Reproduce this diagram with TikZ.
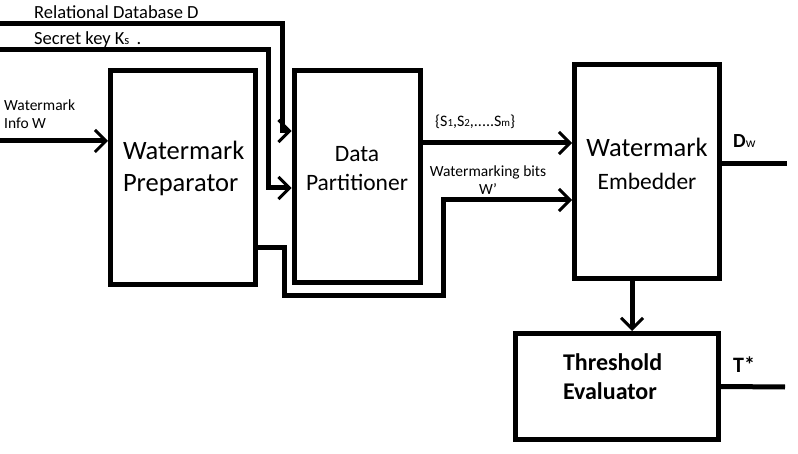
\documentclass[tikz,border=0pt]{standalone}
\usepackage{fontspec}
\setmainfont{Carlito}
\usetikzlibrary{arrows.meta,positioning}
\newcommand{\lowsub}[1]{\scalebox{0.68}{#1}}

\begin{document}
\begin{tikzpicture}[x=1pt,y=1pt,on grid,
	block/.style={draw,line width=5pt,inner sep=0pt,text height=0pt},
	wire/.style={line width=5pt},
	arr/.style={wire,-{Straight Barb[length=11pt,width=22pt,line width=3pt]}},
	lbl/.style={inner sep=0pt,font=\fontsize{15.5}{18}\selectfont}]
	\useasboundingbox (0,0) rectangle (798,-454);
	\node[block, minimum width=145pt, minimum height=214pt, text width=120pt, text depth=36.8pt, align=left, font=\fontsize{26.5}{32}\selectfont] (prep) at (183,-178) {Watermark\\Preparator};
	\node[block, above right=1.5pt and 174pt of prep, minimum width=126pt, minimum height=212pt, text width=120pt, text depth=29.4pt, align=center, font=\fontsize{23.5}{29}\selectfont] (part) {Data\\Partitioner};
	\node[block, above right=5pt and 290pt of part, minimum width=145pt, minimum height=214pt, text width=140pt, text depth=29.6pt, align=center, font=\fontsize{26.5}{33}\selectfont] (emb) {Watermark\\{\fontsize{23.5}{33}\selectfont Embedder}};
	\node[block, below left=215pt and 30.5pt of emb, minimum width=203pt, minimum height=106pt, text width=107pt, text depth=31.6pt, align=left, font=\bfseries\fontsize{24}{29}\selectfont] (thr) {Threshold\\Evaluator};
	
	% free ends
	\coordinate (dbin) at (0,-24);
	\coordinate (keyin) at (0,-50);
	\coordinate (infoin) at (0,-141);
	\coordinate (dwout) at (787,-164);
	\coordinate (tout) at (785,-387);
	
	% inputs
	\draw[arr] (dbin) -- ++(282,0) |- ([yshift=45.5pt]part.west);
	\draw[arr] (keyin) -- ++(268,0) |- ([yshift=-11.5pt]part.west);
	\draw[arr] (infoin) -- ([yshift=37pt]prep.west);
	\draw[arr] ([yshift=-70pt]prep.east) -- ++(26,0) -- ++(0,-48) -- ++(159,0) |- ([yshift=-28.5pt]emb.west);
	\draw[arr] ([yshift=33.5pt]part.east) -- ([yshift=28.5pt]emb.west);
	\draw[arr] ([xshift=-15pt]emb.south) -- ([xshift=15.5pt]thr.north);
	% outputs
	\draw[wire] ([yshift=7.5pt]emb.east) -- (dwout);
	\draw[wire] (thr.east) -- (tout);
	
	\node[lbl, anchor=base west, font=\fontsize{18.5}{20}\selectfont] (dblbl) at (34,-18.5) {Relational Database D};
	\node[lbl, anchor=base west, font=\fontsize{18.5}{20}\selectfont] (keylbl) at (34,-45) {Secret key K\lowsub{s} \,.};
	\node[lbl, anchor=north west, align=left] (infolbl) at (4,-100) {Watermark\\Info W};
	\node[lbl, anchor=base west, font=\fontsize{16}{18}\selectfont] (setlbl) at (435,-127) {\{S\lowsub{1},S\lowsub{2},.....S\lowsub{m}\}};
	\node[lbl, align=center] (bitslbl) at (488,-180) {Watermarking bits\\W'};
	\node[lbl, anchor=base west, font=\bfseries\fontsize{20}{24}\selectfont] (dwlbl) at (733,-148) {D\lowsub{\mdseries w}};
	\node[lbl, anchor=base west, font=\bfseries\fontsize{22}{26}\selectfont] (tlbl) at (733,-373) {T*};
\end{tikzpicture}
\end{document}
